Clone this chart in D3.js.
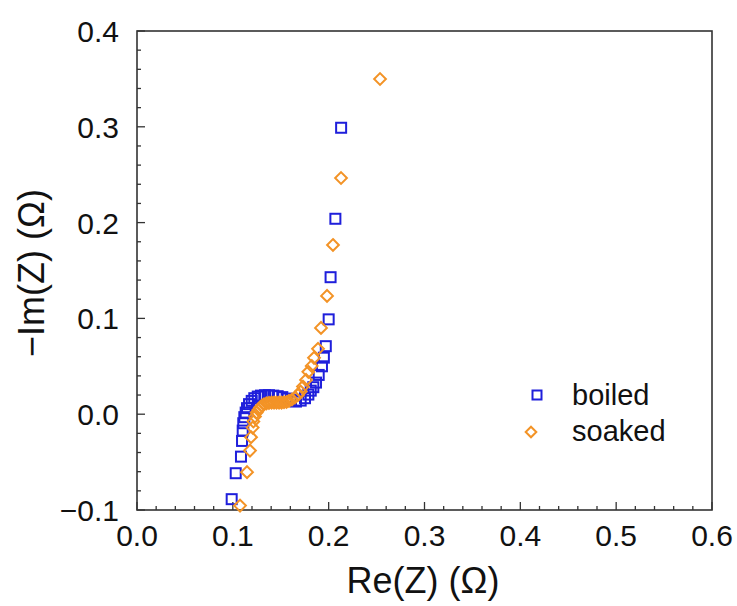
<!DOCTYPE html>
<html>
<head>
<meta charset="utf-8">
<script src="https://cdn.jsdelivr.net/npm/d3@7/dist/d3.min.js"></script>
<style>
  html, body { margin: 0; padding: 0; background: #fff; }
  svg { display: block; font-family: "Liberation Sans", Arial, sans-serif; }
</style>
</head>
<body>
<svg id="chart" width="737" height="606"></svg>
<script>
// Nyquist data: Re(Z), -Im(Z) in ohms
const boiledRe = [0.0988, 0.1030, 0.1085, 0.1096, 0.1103, 0.1109, 0.1120, 0.1134, 0.1148, 0.1169,
  0.1197, 0.1224, 0.1260, 0.1294, 0.1336, 0.1377, 0.1422, 0.1468, 0.1516, 0.1562,
  0.1607, 0.1659, 0.1708, 0.1753, 0.1788, 0.1813, 0.1840, 0.1868, 0.1896, 0.1930,
  0.1950, 0.1970, 0.2000, 0.2020, 0.2070, 0.2130];
const boiledIm = [-0.0887, -0.0616, -0.0443, -0.0279, -0.0171, -0.0094, -0.0031, 0.0017, 0.0063, 0.0105,
  0.0139, 0.0167, 0.0184, 0.0194, 0.0198, 0.0198, 0.0194, 0.0188, 0.0178, 0.0163,
  0.0147, 0.0132, 0.0142, 0.0167, 0.0205, 0.0246, 0.0282, 0.0330, 0.0410, 0.0500,
  0.0590, 0.0710, 0.0990, 0.1430, 0.2040, 0.2990];

const soakedRe = [0.1075, 0.1148, 0.1179, 0.1190, 0.1207, 0.1214, 0.1231, 0.1249, 0.1266, 0.1284,
  0.1304, 0.1325, 0.1351, 0.1377, 0.1404, 0.1430, 0.1456, 0.1482, 0.1508, 0.1534,
  0.1560, 0.1586, 0.1617, 0.1649, 0.1680, 0.1708, 0.1732, 0.1764, 0.1788, 0.1823,
  0.1847, 0.1889, 0.1920, 0.1983, 0.2045, 0.2129, 0.2536];
const soakedIm = [-0.0954, -0.0605, -0.0380, -0.0240, -0.0140, -0.0077, -0.0025, 0.0017, 0.0045, 0.0069,
  0.0090, 0.0104, 0.0113, 0.0118, 0.0121, 0.0121, 0.0121, 0.0121, 0.0121, 0.0125,
  0.0128, 0.0139, 0.0154, 0.0175, 0.0201, 0.0236, 0.0288, 0.0358, 0.0442, 0.0504,
  0.0588, 0.0682, 0.0901, 0.1235, 0.1767, 0.2466, 0.3499];

const xTicks = [0.0, 0.1, 0.2, 0.3, 0.4, 0.5, 0.6];
const yTicks = [-0.1, 0.0, 0.1, 0.2, 0.3, 0.4];
const seriesNames = ["boiled", "soaked"];

const blue = "#1f1fdb";
const orange = "#f39326";
const axisColor = "#333";
const textColor = "#111";

const svg = d3.select("#chart");
const plotL = 137, plotR = 712, plotT = 31, plotB = 510;

const x = d3.scaleLinear().domain([0, 0.6]).range([plotL, plotR]);
const y = d3.scaleLinear().domain([-0.1, 0.4]).range([plotB, plotT]);

const fmt = v => d3.format(".1f")(v).replace("-", "\u2212");
const isMajor = d => Math.abs(d * 10 - Math.round(d * 10)) < 1e-6;

// frame
svg.append("rect")
  .attr("x", plotL).attr("y", plotT)
  .attr("width", plotR - plotL).attr("height", plotB - plotT)
  .attr("fill", "none").attr("stroke", axisColor).attr("stroke-width", 1.6);

// inward ticks on bottom and left
const xMinor = d3.range(0, 0.6001, 0.02);
const yMinor = d3.range(-0.1, 0.4001, 0.02);
const g = svg.append("g").attr("stroke", axisColor).attr("stroke-width", 1.3);
g.selectAll(".xm").data(xMinor).join("line").attr("class", "xm")
  .attr("x1", d => x(d)).attr("x2", d => x(d))
  .attr("y1", plotB).attr("y2", d => plotB - (isMajor(d) ? 8 : 4));
g.selectAll(".ym").data(yMinor).join("line").attr("class", "ym")
  .attr("y1", d => y(d)).attr("y2", d => y(d))
  .attr("x1", plotL).attr("x2", d => plotL + (isMajor(d) ? 8 : 4));

// tick labels
svg.append("g").selectAll("text").data(xTicks).join("text")
  .attr("x", d => x(d)).attr("y", 546)
  .attr("text-anchor", "middle").attr("font-size", 30).attr("fill", textColor)
  .text(fmt);
svg.append("g").selectAll("text").data(yTicks).join("text")
  .attr("x", 119).attr("y", d => y(d) + 11)
  .attr("text-anchor", "end").attr("font-size", 30).attr("fill", textColor)
  .text(fmt);

// axis titles
svg.append("text")
  .attr("x", 423).attr("y", 593)
  .attr("text-anchor", "middle").attr("font-size", 36).attr("fill", textColor)
  .text("Re(Z) (\u03A9)");
svg.append("text")
  .attr("transform", "translate(44, 273) rotate(-90)")
  .attr("text-anchor", "middle").attr("font-size", 36).attr("fill", textColor)
  .text("\u2212Im(Z) (\u03A9)");

// markers
const sq = 10;
svg.append("g").selectAll("rect").data(d3.zip(boiledRe, boiledIm)).join("rect")
  .attr("x", d => x(d[0]) - sq / 2).attr("y", d => y(d[1]) - sq / 2)
  .attr("width", sq).attr("height", sq)
  .attr("fill", "none").attr("stroke", blue).attr("stroke-width", 2);

const diamond = d3.symbol().type(d3.symbolDiamond2).size(88);
svg.append("g").selectAll("path").data(d3.zip(soakedRe, soakedIm)).join("path")
  .attr("d", diamond)
  .attr("transform", d => `translate(${x(d[0])},${y(d[1])})`)
  .attr("fill", "none").attr("stroke", orange).attr("stroke-width", 2);

// legend
const leg = svg.append("g");
leg.append("rect").attr("x", 537 - 4.5).attr("y", 395 - 4.5).attr("width", 9).attr("height", 9)
  .attr("fill", "none").attr("stroke", blue).attr("stroke-width", 2);
leg.append("path").attr("d", d3.symbol().type(d3.symbolDiamond2).size(72)())
  .attr("transform", "translate(531,432)")
  .attr("fill", "none").attr("stroke", orange).attr("stroke-width", 2);
leg.selectAll("text").data(seriesNames).join("text")
  .attr("x", 572).attr("y", (d, i) => 405 + i * 36)
  .attr("font-size", 29).attr("fill", textColor)
  .text(d => d);
</script>
</body>
</html>
